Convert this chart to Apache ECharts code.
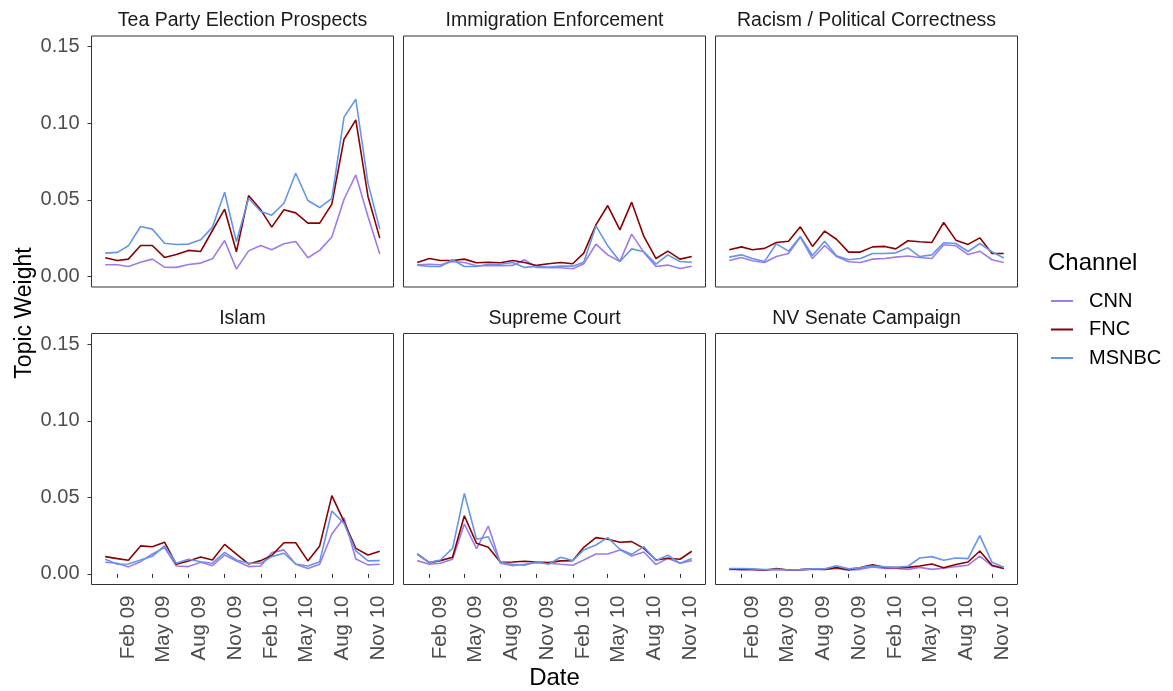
<!DOCTYPE html>
<html>
<head>
<meta charset="utf-8">
<script src="https://cdn.jsdelivr.net/npm/echarts@6/dist/echarts.min.js"></script>
<style>
  html, body { margin: 0; padding: 0; background: #fff; }
  #chart { width: 1173px; height: 691px; }
</style>
</head>
<body>
<div id="chart"></div>
<script>
// Monthly observations, Jan 2009 – Dec 2010
const months = ['2009-01-01','2009-02-01','2009-03-01','2009-04-01','2009-05-01','2009-06-01',
  '2009-07-01','2009-08-01','2009-09-01','2009-10-01','2009-11-01','2009-12-01',
  '2010-01-01','2010-02-01','2010-03-01','2010-04-01','2010-05-01','2010-06-01',
  '2010-07-01','2010-08-01','2010-09-01','2010-10-01','2010-11-01','2010-12-01'];

const channels = ['CNN', 'FNC', 'MSNBC'];
const topics = ['Tea Party Election Prospects', 'Immigration Enforcement', 'Racism / Political Correctness',
  'Islam', 'Supreme Court', 'NV Senate Campaign'];

// Date axis ticks
const tickDates = ['2009-02-01','2009-05-01','2009-08-01','2009-11-01','2010-02-01','2010-05-01','2010-08-01','2010-11-01'];
const tickLabels = ['Feb 09','May 09','Aug 09','Nov 09','Feb 10','May 10','Aug 10','Nov 10'];
const yTicks = [0, 0.05, 0.10, 0.15];

// Topic weights per channel
const teaCNN   = [0.0076,0.0076,0.0065,0.0093,0.0113,0.0061,0.0059,0.0078,0.0087,0.0115,0.0235,0.0048,0.0167,0.0202,0.0174,0.0213,0.0228,0.0122,0.0170,0.0257,0.0504,0.0663,0.0391,0.0146];
const teaFNC   = [0.0122,0.0104,0.0113,0.0202,0.0202,0.0124,0.0143,0.0170,0.0163,0.0300,0.0439,0.0161,0.0528,0.0435,0.0322,0.0435,0.0415,0.0348,0.0348,0.0472,0.0896,0.1022,0.0522,0.0250];
const teaMSNBC = [0.0152,0.0157,0.0200,0.0326,0.0309,0.0217,0.0209,0.0211,0.0239,0.0322,0.0550,0.0226,0.0510,0.0424,0.0400,0.0478,0.0674,0.0496,0.0450,0.0510,0.1040,0.1157,0.0609,0.0309];

const immCNN   = [0.0076,0.0080,0.0076,0.0098,0.0091,0.0070,0.0070,0.0070,0.0072,0.0109,0.0059,0.0057,0.0057,0.0050,0.0083,0.0211,0.0141,0.0098,0.0276,0.0157,0.0065,0.0074,0.0052,0.0067];
const immFNC   = [0.0091,0.0117,0.0104,0.0104,0.0113,0.0089,0.0093,0.0089,0.0104,0.0091,0.0072,0.0083,0.0091,0.0083,0.0152,0.0337,0.0463,0.0304,0.0485,0.0261,0.0117,0.0165,0.0113,0.0130];
const immMSNBC = [0.0074,0.0065,0.0065,0.0109,0.0065,0.0065,0.0080,0.0080,0.0091,0.0059,0.0065,0.0061,0.0067,0.0067,0.0093,0.0330,0.0200,0.0098,0.0180,0.0161,0.0080,0.0141,0.0098,0.0093];

const racCNN   = [0.0104,0.0124,0.0102,0.0091,0.0130,0.0150,0.0257,0.0117,0.0202,0.0130,0.0096,0.0091,0.0113,0.0117,0.0126,0.0133,0.0124,0.0117,0.0207,0.0200,0.0143,0.0165,0.0109,0.0091];
const racFNC   = [0.0174,0.0193,0.0174,0.0183,0.0222,0.0230,0.0324,0.0196,0.0296,0.0243,0.0159,0.0159,0.0193,0.0196,0.0180,0.0233,0.0226,0.0222,0.0352,0.0237,0.0209,0.0252,0.0150,0.0150];
const racMSNBC = [0.0126,0.0141,0.0117,0.0098,0.0213,0.0165,0.0261,0.0137,0.0230,0.0135,0.0109,0.0117,0.0150,0.0150,0.0154,0.0187,0.0130,0.0141,0.0220,0.0215,0.0163,0.0215,0.0161,0.0120];

const islCNN   = [0.0076,0.0070,0.0046,0.0080,0.0130,0.0172,0.0052,0.0048,0.0076,0.0054,0.0124,0.0085,0.0048,0.0052,0.0139,0.0157,0.0063,0.0035,0.0063,0.0261,0.0367,0.0098,0.0059,0.0063];
const islFNC   = [0.0113,0.0100,0.0089,0.0183,0.0178,0.0207,0.0063,0.0085,0.0111,0.0091,0.0193,0.0130,0.0065,0.0087,0.0120,0.0204,0.0204,0.0085,0.0183,0.0511,0.0341,0.0167,0.0124,0.0148];
const islMSNBC = [0.0096,0.0063,0.0065,0.0091,0.0115,0.0183,0.0070,0.0096,0.0080,0.0070,0.0141,0.0091,0.0070,0.0070,0.0113,0.0135,0.0065,0.0052,0.0080,0.0411,0.0330,0.0150,0.0085,0.0087];

const supCNN   = [0.0087,0.0063,0.0070,0.0096,0.0326,0.0165,0.0313,0.0070,0.0054,0.0063,0.0074,0.0070,0.0063,0.0057,0.0091,0.0130,0.0130,0.0157,0.0117,0.0143,0.0061,0.0102,0.0070,0.0087];
const supFNC   = [0.0130,0.0074,0.0087,0.0109,0.0380,0.0200,0.0174,0.0076,0.0078,0.0083,0.0078,0.0074,0.0085,0.0087,0.0174,0.0237,0.0226,0.0207,0.0211,0.0167,0.0091,0.0102,0.0096,0.0148];
const supMSNBC = [0.0130,0.0074,0.0091,0.0167,0.0526,0.0226,0.0243,0.0074,0.0063,0.0057,0.0080,0.0063,0.0109,0.0087,0.0157,0.0189,0.0237,0.0161,0.0128,0.0178,0.0087,0.0122,0.0070,0.0100];

const nvCNN    = [0.0030,0.0028,0.0028,0.0024,0.0030,0.0026,0.0026,0.0030,0.0030,0.0035,0.0024,0.0030,0.0046,0.0035,0.0035,0.0030,0.0043,0.0030,0.0037,0.0048,0.0057,0.0117,0.0052,0.0035];
const nvFNC    = [0.0033,0.0030,0.0030,0.0024,0.0035,0.0026,0.0028,0.0033,0.0030,0.0041,0.0028,0.0041,0.0059,0.0043,0.0041,0.0043,0.0052,0.0065,0.0041,0.0061,0.0078,0.0150,0.0057,0.0035];
const nvMSNBC  = [0.0035,0.0035,0.0033,0.0028,0.0030,0.0026,0.0028,0.0033,0.0033,0.0054,0.0033,0.0041,0.0052,0.0046,0.0043,0.0050,0.0104,0.0113,0.0089,0.0104,0.0100,0.0250,0.0076,0.0043];

const panelData = [
  [teaCNN, teaFNC, teaMSNBC],
  [immCNN, immFNC, immMSNBC],
  [racCNN, racFNC, racMSNBC],
  [islCNN, islFNC, islMSNBC],
  [supCNN, supFNC, supMSNBC],
  [nvCNN, nvFNC, nvMSNBC]
];

const channelColors = { CNN: '#9f7aea', FNC: '#8b0000', MSNBC: '#6495ed' };

// ---- layout ----
const FONT = '"Liberation Sans", Arial, Helvetica, sans-serif';
const panelLeft = [91.5, 403.5, 715.5];
const panelTop = [36, 333.5];
const panelW = 302;
const panelH = 251;
const yMin = -0.0069, yMax = 0.157;

// dates become millisecond timestamps on a linear value axis
const toMs = d => new Date(d + 'T00:00:00Z').getTime();
const times = months.map(toMs);
const tickTimes = tickDates.map(toMs);
const tStart = times[0], tEnd = times[times.length - 1];
const tPad = (tEnd - tStart) * 0.05;

const grids = [], xAxes = [], yAxes = [], series = [], titles = [];

for (let p = 0; p < 6; p++) {
  const col = p % 3, row = Math.floor(p / 3);
  grids.push({
    left: panelLeft[col], top: panelTop[row], width: panelW, height: panelH,
    show: true, borderColor: '#333333', borderWidth: 1, backgroundColor: 'transparent',
    containLabel: false
  });
  const bottomRow = row === 1;
  xAxes.push({
    type: 'value', gridIndex: p, min: tStart - tPad, max: tEnd + tPad, scale: true,
    axisLine: { show: false },
    splitLine: { show: false },
    axisTick: { show: bottomRow, customValues: tickTimes, length: 4, lineStyle: { color: '#333333', width: 1 } },
    axisLabel: {
      show: bottomRow, customValues: tickTimes, rotate: 90, margin: 11,
      verticalAlign: 'top',
      color: '#4d4d4d', fontSize: 20.5, fontFamily: FONT,
      formatter: v => {
        const k = tickTimes.findIndex(t => Math.abs(t - v) < 1000);
        return k >= 0 ? tickLabels[k] : '';
      }
    }
  });
  const leftCol = col === 0;
  yAxes.push({
    type: 'value', gridIndex: p, min: yMin, max: yMax,
    axisLine: { show: false },
    splitLine: { show: false },
    axisTick: { show: leftCol, customValues: yTicks, length: 4, lineStyle: { color: '#333333', width: 1 } },
    axisLabel: {
      show: leftCol, customValues: yTicks, margin: 12,
      color: '#4d4d4d', fontSize: 20, fontFamily: FONT,
      formatter: v => Number(v).toFixed(2)
    }
  });
  titles.push({
    text: topics[p], left: panelLeft[col] + panelW / 2, top: panelTop[row] - 25, textAlign: 'center',
    padding: 0,
    textStyle: { fontSize: 19.5, fontWeight: 'normal', color: '#1a1a1a', fontFamily: FONT }
  });
  channels.forEach((ch, c) => {
    series.push({
      name: ch, type: 'line', xAxisIndex: p, yAxisIndex: p,
      symbol: 'none', smooth: false, animation: false,
      lineStyle: { width: 1.6, color: channelColors[ch] },
      itemStyle: { color: channelColors[ch] },
      data: times.map((t, i) => [t, panelData[p][c][i]])
    });
  });
}

const chart = echarts.init(document.getElementById('chart'), null, { renderer: 'canvas' });
chart.setOption({
  animation: false,
  backgroundColor: '#ffffff',
  title: titles,
  grid: grids,
  xAxis: xAxes,
  yAxis: yAxes,
  series: series,
  legend: {
    data: channels, orient: 'vertical', left: 1046, top: 286,
    icon: 'rect', itemWidth: 22, itemHeight: 2, itemGap: 8.5,
    textStyle: { fontSize: 20, color: '#000000', fontFamily: FONT, padding: [0, 0, 0, 11] },
    selectedMode: false
  },
  graphic: [
    {
      type: 'text', x: 25, y: 313, rotation: Math.PI / 2,
      style: { text: 'Topic Weight', fontSize: 23, fontFamily: FONT, fill: '#000', align: 'center', verticalAlign: 'middle' }
    },
    {
      type: 'text', x: 554.5, y: 678,
      style: { text: 'Date', fontSize: 24, fontFamily: FONT, fill: '#000', align: 'center', verticalAlign: 'middle' }
    },
    {
      type: 'text', x: 1048, y: 263,
      style: { text: 'Channel', fontSize: 24, fontFamily: FONT, fill: '#000', align: 'left', verticalAlign: 'middle' }
    }
  ]
});
</script>
</body>
</html>
